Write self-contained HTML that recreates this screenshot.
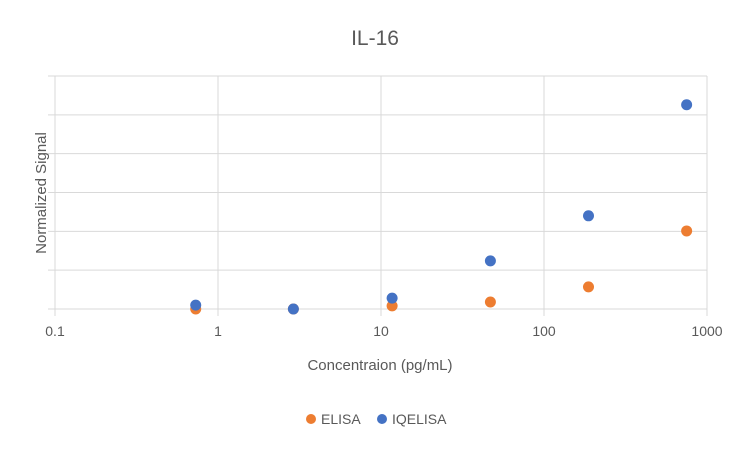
<!DOCTYPE html>
<html><head><meta charset="utf-8"><style>
body{margin:0;background:#fff;font-family:"Liberation Sans",Calibri,sans-serif}
svg{display:block}
text{font-family:"Liberation Sans",sans-serif;fill:#595959}
</style></head><body>
<svg id="chart" width="750" height="450">
<text x="375" y="45" text-anchor="middle" font-size="21">IL-16</text>
<g id="grid"></g>
<g id="xticks"></g>
<text x="380" y="370" text-anchor="middle" font-size="15">Concentraion (pg/mL)</text>
<text transform="translate(46,193) rotate(-90)" text-anchor="middle" font-size="15">Normalized Signal</text>
<g id="marks"></g>
<g>
<g><circle cx="311" cy="419" r="5" fill="#ED7D31"/><text x="321" y="424" font-size="14">ELISA</text></g>
<g><circle cx="382" cy="419" r="5" fill="#4472C4"/><text x="392" y="424" font-size="14">IQELISA</text></g>
</g>
</svg>
<script>
const xTickLabels=["0.1","1","10","100","1000"];
const xTickValues=[0.1,1,10,100,1000];
const yGridValues=[0,1,2,3,4,5,6];
const concentrations=[0.73,2.9,11.7,46.9,187.5,750];
const elisaValues=[0.0,0.0,0.08,0.18,0.57,2.01];
const iqelisaValues=[0.1,0.0,0.28,1.24,2.4,5.26];
const L=55,R=707,T=76,B=309;
const xs=v=>L+(Math.log10(v)+1)/4*(R-L);
const ys=v=>B-v/6*(B-T);
const NS="http://www.w3.org/2000/svg";
function mk(t,a,p){const e=document.createElementNS(NS,t);for(const k in a)e.setAttribute(k,a[k]);p.appendChild(e);return e;}
const g=document.getElementById('grid');
yGridValues.forEach(v=>{const l=mk('line',{x1:L-7,x2:R,y1:ys(v),y2:ys(v),stroke:'#d9d9d9','stroke-width':1},g);

});
xTickValues.forEach((v,i)=>{const l=mk('line',{x1:xs(v),x2:xs(v),y1:T,y2:B+7,stroke:'#d9d9d9','stroke-width':1},g);


const t=mk('text',{x:xs(v),y:B+27,'text-anchor':'middle','font-size':14},document.getElementById('xticks'));
t.textContent=xTickLabels[i];

});
const m=document.getElementById('marks');
concentrations.forEach((c,i)=>{
const a=mk('circle',{cx:xs(c),cy:ys(elisaValues[i]),r:5.5,fill:'#ED7D31'},m);

});
concentrations.forEach((c,i)=>{
const b=mk('circle',{cx:xs(c),cy:ys(iqelisaValues[i]),r:5.5,fill:'#4472C4'},m);

});
</script>
</body></html>
